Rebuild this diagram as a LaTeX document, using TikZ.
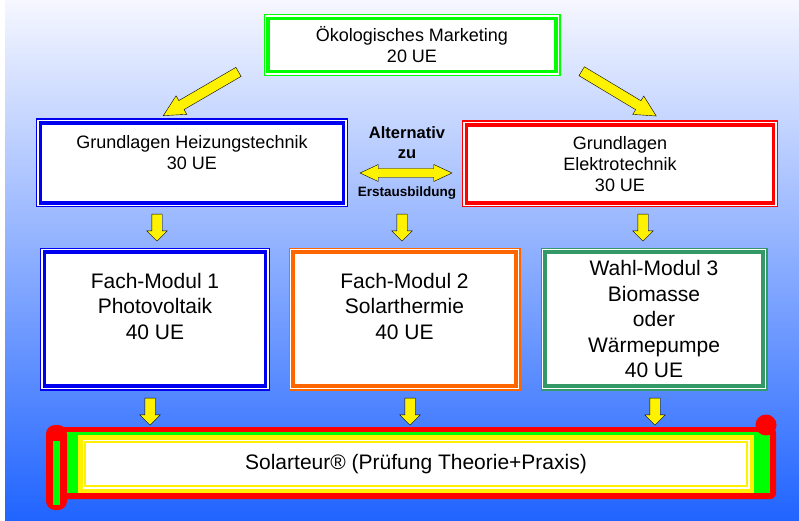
\documentclass[tikz,border=0pt]{standalone}
\usepackage{fontspec}
\setmainfont{Liberation Sans}
\usepackage{tikz}
\usetikzlibrary{shapes.arrows,positioning}

\definecolor{bgtop}{RGB}{246,247,255}
\definecolor{bgmid}{RGB}{178,190,255}
\definecolor{bgbot}{RGB}{32,100,255}
\definecolor{oekogreen}{RGB}{0,255,0}
\definecolor{heizblue}{RGB}{0,0,240}
\definecolor{elekred}{RGB}{255,0,0}
\definecolor{fachorange}{RGB}{255,102,0}
\definecolor{wahlgreen}{RGB}{51,153,102}

\begin{document}
\begin{tikzpicture}[
    x=1pt, y=-1pt,
    every node/.style={font=\fontsize{18}{21}\selectfont},
    framebox/.style={draw=#1, line width=3.5pt, fill=white, align=center, inner sep=0pt,
        preaction={draw=#1, line width=9pt}, preaction={draw=white, line width=6.5pt}},
    modtext/.style={font=\fontsize{21}{25.5}\selectfont},
    alttext/.style={font=\bfseries\fontsize{16.5}{19}\selectfont, inner sep=0pt},
    downarrow/.style={single arrow, draw=black, line width=0.4pt, fill=yellow, inner sep=5pt,
        minimum height=27pt, single arrow head extend=5pt, single arrow head indent=0pt,
        shape border rotate=270},
    diagarrow/.style={single arrow, draw=black, line width=0.4pt, fill=yellow, inner sep=5pt,
        minimum height=87pt, single arrow head extend=5.5pt, single arrow tip angle=54},
    scrollred/.style={fill=red},
    scrollgreen/.style={fill=oekogreen}
]
\useasboundingbox (0,0) rectangle (799,521);
\fill[white] (0,0) rectangle (799,521);
\shade[top color=bgtop, middle color=bgmid, bottom color=bgbot] (5,0) rectangle (799,521);

% top
\node[framebox=oekogreen, minimum width=288pt, minimum height=53pt] (oeko) at (412,45) {Ökologisches Marketing\\20 UE};

% Grundlagen
\node[framebox=heizblue, minimum width=303pt, minimum height=80pt] (heiz) at (192,163) {Grundlagen Heizungstechnik\\30 UE\\~};
\node[framebox=elekred, minimum width=307pt, minimum height=78pt] (elek) at (620,164) {Grundlagen\\Elektrotechnik\\30 UE};

\node[diagarrow, rotate=210.2] (pfeilh) at (205.3,91.2) {};
\node[diagarrow, rotate=-31] (pfeile) at (614.6,91) {};

\node[alttext] (alt) at (407,133) {Alternativ};
\node[alttext] (zu) at (407,154) {zu};
\node[double arrow, draw=black, line width=0.4pt, fill=yellow, inner sep=4.3pt, minimum height=92pt,
    double arrow head extend=4pt, double arrow tip angle=50] (wechsel) at (406,173) {};
\node[font=\bfseries\fontsize{13.5}{16}\selectfont] (erst) at (407,193) {Erstausbildung};

\node[downarrow] (ph) at (157,225) {};
\node[downarrow] (pa) at (402,225) {};
\node[downarrow] (pe) at (643,225) {};

% Module
\node[framebox=heizblue, modtext, minimum width=221pt, minimum height=134pt] (fach1) at (155,319) {Fach-Modul 1\\Photovoltaik\\40 UE\\~};
\node[framebox=fachorange, modtext, minimum width=223pt, minimum height=134pt] (fach2) at (404.5,319) {Fach-Modul 2\\Solarthermie\\40 UE\\~};
\node[framebox=wahlgreen, modtext, minimum width=218pt, minimum height=134pt] (wahl3) at (654,319) {Wahl-Modul 3\\Biomasse\\oder\\Wärmepumpe\\40 UE};

\node[downarrow] (pf1) at (150,409) {};
\node[downarrow] (pf2) at (410,409) {};
\node[downarrow] (pw3) at (655,409) {};

% Schriftrolle
\fill[scrollred, rounded corners=6pt] (47,427) rectangle (776,499);
\fill[scrollgreen] (65,432) rectangle (770,493);
\fill[scrollred] (766,425) circle (10.5);
\fill[scrollred, rounded corners=9pt] (46,425) rectangle (67,510);
\fill[scrollgreen] (53,441) rectangle (59.5,505);
\node[modtext, fill=white, draw=yellow, line width=2pt, minimum width=662pt, minimum height=44pt,
    preaction={draw=yellow, line width=14pt}, preaction={draw=white, line width=5pt}] (solar) at (416,464)
    {Solarteur® (Prüfung Theorie+Praxis)};
\end{tikzpicture}
\end{document}
